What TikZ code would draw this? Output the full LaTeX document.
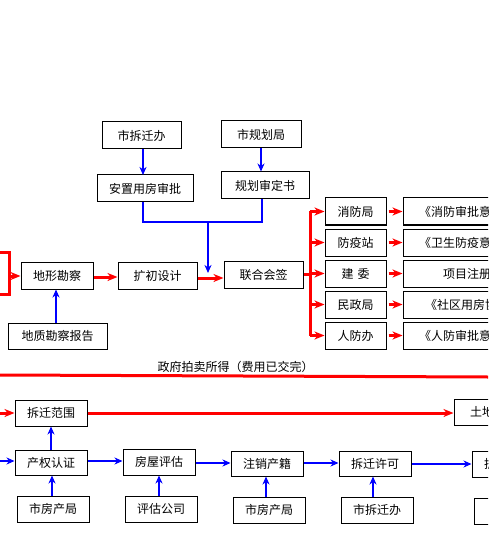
\documentclass[tikz,border=0pt]{standalone}
\usepackage{fontspec}
\setmainfont{Noto Sans CJK SC}
\usetikzlibrary{arrows.meta}
\definecolor{rline}{RGB}{255,0,0}
\definecolor{bline}{RGB}{0,0,255}
\tikzset{
  box/.style={draw=black, line width=1pt, minimum height=27pt, inner sep=0pt,
    font=\fontsize{12}{14}\selectfont, anchor=center},
  bluearr/.style={draw=bline, line width=2pt, -{Stealth[length=8pt,width=7pt,inset=2.5pt]}},
  blueln/.style={draw=bline, line width=2pt},
  redarr/.style={draw=rline, line width=3pt, -{Stealth[length=10pt,width=8pt,inset=3pt]}},
  redln/.style={draw=rline, line width=3pt},
}
\begin{document}
\begin{tikzpicture}[x=1pt,y=-1pt]
\useasboundingbox (0,0) rectangle (488,534);
\clip (0,0) rectangle (488,534);
\fill[white] (0,0) rectangle (488,534);

% upper section
\node[box, minimum width=79pt] (chaiA) at (141.5,135.5) {市拆迁办};
\node[box, minimum width=80pt] (guihua) at (261,134.5) {市规划局};
\node[box, minimum width=96pt] (anzhi) at (145,188.5) {安置用房审批};
\node[box, minimum width=88pt] (shending) at (265,185.5) {规划审定书};

\node[box, minimum width=72pt] (dixing) at (57,275.5) {地形勘察};
\node[box, minimum width=79pt] (kuochu) at (157.5,275.5) {扩初设计};
\node[box, minimum width=79pt] (lianhe) at (263.5,274.5) {联合会签};
\node[box, minimum width=99pt, minimum height=26pt] (dizhi) at (57.5,336) {地质勘察报告};

% departments
\node[box, minimum width=61pt] (xiaofang) at (355.5,211.5) {消防局};
\node[box, minimum width=61pt] (fangyi) at (355.5,242.5) {防疫站};
\node[box, minimum width=61pt] (jianwei) at (355.5,273.5) {建\hspace{4pt}委};
\node[box, minimum width=61pt] (minzheng) at (355.5,304.5) {民政局};
\node[box, minimum width=61pt] (renfang) at (355.5,335.5) {人防办};

\node[box, minimum width=128pt] (docA) at (467,211.5) {《消防审批意见》};
\node[box, minimum width=128pt] (docB) at (467,242.5) {《卫生防疫意见》};
\node[box, minimum width=128pt] (docC) at (467,273.5) {项目注册};
\node[box, minimum width=140pt] (docD) at (473,304.5) {《社区用房协议》};
\node[box, minimum width=128pt] (docE) at (467,335.5) {《人防审批意见》};

% blue connectors upper
\coordinate (jA) at (143,222);
\coordinate (jB) at (208,222);
\coordinate (jC) at (262,222);
\coordinate (jD) at (208,273);
\draw[bluearr] (143,149) -- (143,175);
\draw[bluearr] (guihua.south) -- (guihua.south |- shending.north);
\draw[blueln] (anzhi.south -| jA) -- (jA) -- (jC) -- (jC |- shending.south);
\draw[bluearr] (jB) -- (jD);
\draw[bluearr] (dizhi.north -| 56,0) -- (dixing.south -| 56,0);

% red connectors upper
\coordinate (brT) at (0,252);
\coordinate (brB) at (0,294);
\coordinate (brM) at (9,276);
\draw[redln] (brT) -- (9,252) -- (9,294) -- (brB);
\draw[redarr] (brM) -- (brM -| dixing.west);
\draw[redarr] (dixing.east |- 0,277) -- (kuochu.west |- 0,277);
\draw[redarr] (kuochu.east |- 0,278) -- (lianhe.west |- 0,278);
\coordinate (trT) at (310,211.5);
\coordinate (trB) at (310,335.5);
\draw[redln] (lianhe.east |- 0,274) -- (310,274);
\draw[redln] (trT) -- (trB);
\foreach \n in {xiaofang,fangyi,jianwei,minzheng,renfang}{
  \draw[redarr] (trT |- \n.west) -- (\n.west);
}
\foreach \a/\b in {xiaofang/docA,fangyi/docB,jianwei/docC,minzheng/docD,renfang/docE}{
  \draw[redarr] ([xshift=2pt]\a.east) -- (\a.east -| docA.west);
}

% government line
\coordinate (gL) at (0,375);
\coordinate (gR) at (488,377);
\draw[redln] (gL) -- (gR);
\node[font=\fontsize{12}{14}\selectfont, inner sep=0pt] (gov) at (235.5,367) {政府拍卖所得（费用已交完）};

% lower section
\node[box, minimum width=72pt, minimum height=26pt] (fanwei) at (51,413) {拆迁范围};
\node[box, minimum width=80pt, minimum height=26pt] (tudi) at (494,412) {土地出让};
\node[box, minimum width=72pt, minimum height=25pt] (chanquan) at (51,462.5) {产权认证};
\node[box, minimum width=72pt, minimum height=26pt] (pinggu) at (159,462) {房屋评估};
\node[box, minimum width=72pt, minimum height=25pt] (zhuxiao) at (267,463.5) {注销产籍};
\node[box, minimum width=72pt, minimum height=25pt] (xuke) at (375,463.5) {拆迁许可};
\node[box, minimum width=72pt, minimum height=26pt] (gonggao) at (508,464) {拆迁公告};

\node[box, minimum width=72pt, minimum height=26pt] (fcA) at (53,509) {市房产局};
\node[box, minimum width=72pt, minimum height=26pt] (gongsi) at (161,509) {评估公司};
\node[box, minimum width=72pt, minimum height=26pt] (fcB) at (269,510) {市房产局};
\node[box, minimum width=72pt, minimum height=26pt] (chaiB) at (377,510) {市拆迁办};
\node[box, minimum width=72pt, minimum height=26pt] (guotu) at (510,511) {国土局};

\coordinate (inR) at (0,413);
\coordinate (inB) at (0,461);
\draw[redarr] (inR) -- (fanwei.west);
\draw[redarr] (fanwei.east) -- (fanwei.east -| tudi.west);
\draw[bluearr] (inB) -- (inB -| chanquan.west);
\draw[bluearr] (chanquan.north) -- (chanquan.north |- fanwei.south);
\draw[bluearr] (chanquan.east |- 0,461) -- (pinggu.west |- 0,461);
\draw[bluearr] (pinggu.east |- 0,463) -- (zhuxiao.west |- 0,463);
\draw[bluearr] (zhuxiao.east |- 0,463) -- (xuke.west |- 0,463);
\draw[bluearr] (xuke.east |- 0,464) -- (gonggao.west |- 0,464);
\draw[bluearr] (fcA.north -| 52,0) -- (chanquan.south -| 52,0);
\draw[bluearr] (gongsi.north -| 159,0) -- (pinggu.south -| 159,0);
\draw[bluearr] (fcB.north -| 266,0) -- (zhuxiao.south -| 266,0);
\draw[bluearr] (chaiB.north -| 373,0) -- (xuke.south -| 373,0);
\end{tikzpicture}
\end{document}
